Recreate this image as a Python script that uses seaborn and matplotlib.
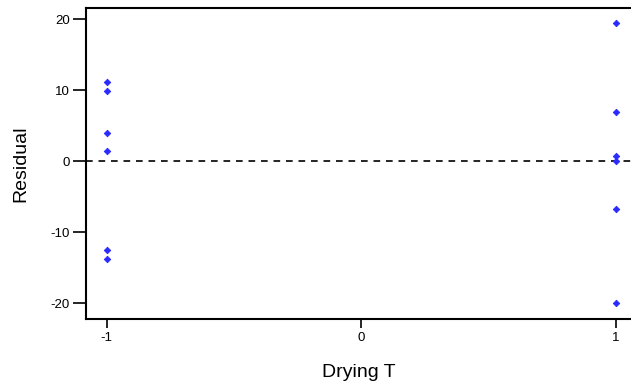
import matplotlib
matplotlib.use("Agg")
import matplotlib.pyplot as plt
import seaborn as sns
import pandas as pd

# Residuals at the two coded levels of drying temperature
drying_t = [-1, -1, -1, -1, -1, -1, 1, 1, 1, 1, 1, 1]
residual = [11.2, 9.9, 4.0, 1.5, -12.5, -13.8, 19.5, 7.0, 0.7, 0.0, -6.7, -20.0]
x_ticks = [-1, 0, 1]
y_ticks = [-20, -10, 0, 10, 20]

df = pd.DataFrame({"Drying T": drying_t, "Residual": residual})

sns.set_style("white")
plt.rcParams["font.family"] = ["Liberation Sans", "DejaVu Sans"]
plt.rcParams["text.color"] = "black"
plt.rcParams["axes.labelcolor"] = "black"

fig = plt.figure(figsize=(6.31, 3.87), dpi=100)
ax = fig.add_axes([86 / 631, 68 / 387, 545 / 631, 311 / 387])

sns.scatterplot(data=df, x="Drying T", y="Residual", ax=ax, marker="D",
                s=11, color="#2a2aff", edgecolor="#2a2aff", linewidth=0.6, zorder=3)
ax.axhline(0, color="black", linestyle=(0, (4, 3.5)), linewidth=1.2, zorder=2)

ax.set_xlim(-1.082, 1.06)
ax.set_ylim(-22.2, 21.6)
ax.set_xticks(x_ticks)
ax.set_yticks(y_ticks)
ax.set_xticklabels([str(v) for v in x_ticks])
ax.set_yticklabels([str(v) for v in y_ticks])

for side in ["left", "bottom", "top"]:
    ax.spines[side].set_visible(True)
    ax.spines[side].set_linewidth(1.5)
    ax.spines[side].set_color("black")
ax.spines["right"].set_visible(False)

ax.tick_params(axis="y", direction="out", length=9.5, width=1.2, pad=2,
               labelsize=9.5, left=True, colors="black")
ax.tick_params(axis="x", direction="out", length=6.5, width=1.2, pad=3,
               labelsize=9.5, bottom=True, colors="black")

ax.set_xlabel("Drying T", fontsize=14, labelpad=14, color="black")
ax.set_ylabel("Residual", fontsize=14, labelpad=15, color="black")

fig.savefig("out.png", dpi=100)
